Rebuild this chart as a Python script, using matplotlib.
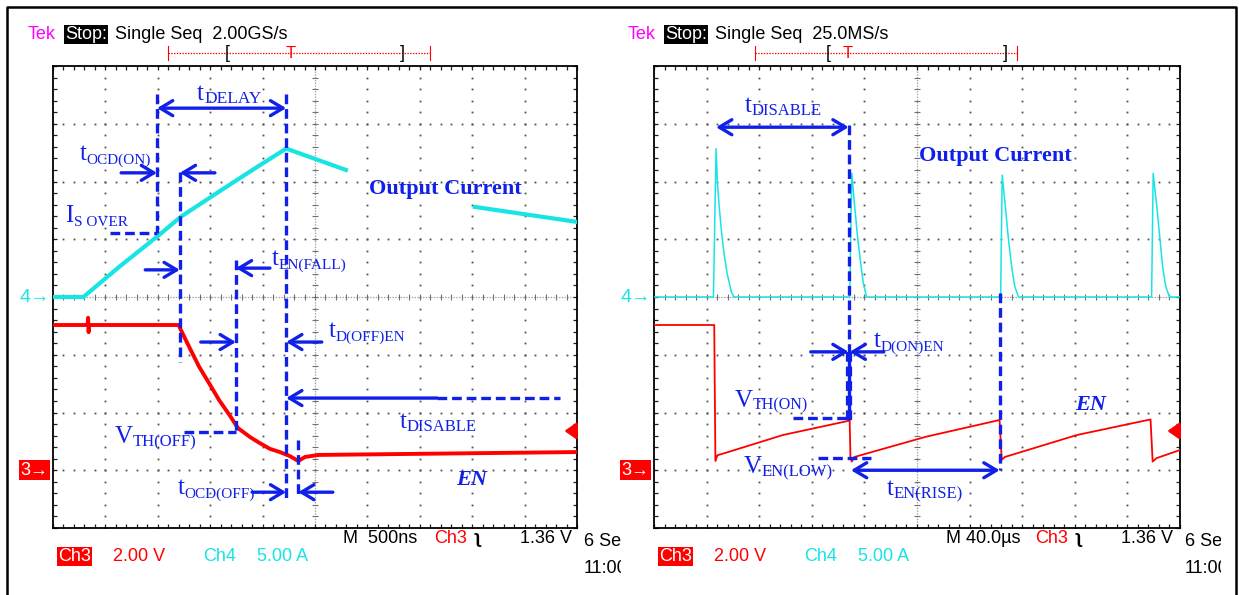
import numpy as np
import matplotlib
matplotlib.use('Agg')
import matplotlib.pyplot as plt
from matplotlib.transforms import Bbox, TransformedBbox

plt.rcParams['font.family'] = ['Liberation Sans', 'DejaVu Sans']
plt.rcParams['lines.scale_dashes'] = False

# scope settings
ch3_v_div = 2.0      # EN, V/div
ch3_gnd = -3.0       # ground marker, div
ch4_a_div = 5.0      # output current, A/div
ch4_gnd = 0.0
trig_level = 1.36    # V

# left capture, 500 ns/div
left_t_div = 500.0
left_i_t = [0, 290, 630, 1010, 1220, 1580, 1955, 2225, 2795, np.nan, 4025, 5000]
left_i_a = [0, 0, 2.6, 5.35, 6.95, 9.1, 11.3, 12.85, 11.0, np.nan, 7.8, 6.5]
left_en_t = [0, 330, 335, 340, 345, 1200, 1220, 1305, 1395, 1500, 1585, 1690, 1765,
             1880, 1955, 2070, 2165, 2260, 2340, 2405, 2530, 5000]
left_en_v = [5.03, 5.03, 5.28, 4.78, 5.03, 5.03, 4.86, 4.23, 3.58, 2.95, 2.43, 1.88, 1.46,
             1.15, 0.98, 0.74, 0.63, 0.49, 0.32, 0.46, 0.53, 0.63]

# right capture, 40 us/div
right_t_div = 40.0
right_i_t = [0, 45.2, 47.2, 48.2, 49.6, 51.2, 53.2, 55.6, 58.8, 60.8,
             148.8, 150.4, 152.4, 154.8, 157.2, 159.2, 161.6,
             263.6, 264.8, 267.2, 269.6, 272.0, 274.4, 277.2,
             378.4, 379.6, 382.4, 384.8, 386.8, 389.2, 392.0, 400]
right_i_a = [0, 0, 12.85, 10.0, 7.8, 5.8, 3.8, 2.05, 0.45, 0,
             0, 10.7, 8.1, 5.2, 2.9, 1.2, 0,
             0, 10.55, 7.8, 4.95, 2.6, 0.9, 0,
             0, 10.7, 7.8, 4.95, 2.6, 0.9, 0, 0]
right_en_t = [0, 45.8, 46.7, 48.2, 52.8, 98, 148.8, 149.4, 150.4, 152.4, 206.8,
              262.8, 264.4, 266.8, 321.6, 377.6, 379.2, 382.2, 400]
right_en_v = [5.03, 5.03, 0.32, 0.52, 0.58, 1.22, 1.72, 0.42, 0.30, 0.46, 1.16,
              1.74, 0.36, 0.46, 1.22, 1.76, 0.30, 0.42, 0.70]

BLUE = '#1020e8'
CYAN = '#18e4e4'
RED = '#ff0000'
SERIF = 'Liberation Serif'


def graticule(ax):
    fine = np.arange(0, 10.001, 0.2)
    vfine = np.arange(-4, 4.001, 0.2)
    for gx in range(1, 10):
        if gx != 5:
            ax.plot(np.full(vfine.size, gx), vfine, ls='none', marker='s', ms=1.3,
                    mew=0, color='#505050', zorder=1)
    for gy in range(-3, 4):
        if gy != 0:
            ax.plot(fine, np.full(fine.size, gy), ls='none', marker='s', ms=1.3,
                    mew=0, color='#505050', zorder=1)
    ax.axhline(0, color='#a0a0a0', lw=0.9, ls=(0, (1, 1)), zorder=1)
    ax.axvline(5, color='#a0a0a0', lw=0.9, ls=(0, (1, 1)), zorder=1)
    ax.plot(fine, np.zeros(fine.size), ls='none', marker='|', ms=5, mew=0.8, color='#707070', zorder=1)
    ax.plot(np.full(vfine.size, 5), vfine, ls='none', marker='_', ms=5, mew=0.8, color='#707070', zorder=1)
    ax.set_xlim(0, 10)
    ax.set_ylim(-4, 4)
    ax.set_xticks(range(11))
    ax.set_yticks(range(-4, 5))
    ax.set_xticks(fine, minor=True)
    ax.set_yticks(vfine, minor=True)
    ax.tick_params(which='both', direction='in', top=True, right=True, length=3, width=0.9,
                   labelbottom=False, labelleft=False, color='#202020')
    for s in ax.spines.values():
        s.set_linewidth(1.3)
    # channel ground markers
    ax.text(-0.05, ch4_gnd / ch4_a_div, '4\u2192', color=CYAN, fontsize=14, ha='right', va='center',
            clip_on=False)
    ax.text(-0.08, ch3_gnd, '3\u2192', color='white', fontsize=13, ha='right', va='center',
            clip_on=False, bbox=dict(facecolor=RED, edgecolor='none', pad=1.0))
    # trigger level marker
    yt = trig_level / ch3_v_div + ch3_gnd
    ax.annotate('', xy=(9.76, yt), xytext=(9.98, yt), zorder=4,
                arrowprops=dict(arrowstyle='-|>,head_length=0.5,head_width=0.35', color=RED,
                                lw=2.0, mutation_scale=14, shrinkA=0, shrinkB=0))


def vdash(ax, x, y0, y1, lw=2.4):
    ax.plot([x, x], [y0, y1], color=BLUE, lw=lw, dashes=(7, 3.5), zorder=5)


def hdash(ax, x0, x1, y, lw=2.4):
    ax.plot([x0, x1], [y, y], color=BLUE, lw=lw, dashes=(7, 3.5), zorder=5)


def arrow(ax, x0, x1, y, style='->'):
    ax.annotate('', xy=(x1, y), xytext=(x0, y), zorder=6,
                arrowprops=dict(arrowstyle=style + ',head_length=0.5,head_width=0.3',
                                color=BLUE, lw=2.4, mutation_scale=18, shrinkA=0, shrinkB=0))


def label(ax, x, y, main, sub, sub_size=12.5):
    t = ax.text(x, y, main, color=BLUE, fontsize=18, family=SERIF,
                ha='left', va='baseline', zorder=7)
    ax.annotate(sub, xy=(1, 0), xycoords=t, xytext=(0, -1.5), textcoords='offset points',
                color=BLUE, fontsize=sub_size, family=SERIF, ha='left', va='bottom', zorder=7)


fig = plt.figure(figsize=(12.39, 5.95), dpi=100)
bg = fig.add_axes([0, 0, 1, 1])
bg.set_xlim(0, 1239)
bg.set_ylim(595, 0)
bg.axis('off')

# outer frame
bg.plot([7, 7, 1236, 1236], [600, 7, 7, 600], color='black', lw=1.8, clip_on=False)

axL = fig.add_axes([53 / 1239, 67 / 595, 524 / 1239, 462 / 595])
axR = fig.add_axes([654 / 1239, 67 / 595, 526 / 1239, 462 / 595])
for ax in (axL, axR):
    graticule(ax)

# traces
axL.plot(np.array(left_i_t) / left_t_div, np.array(left_i_a) / ch4_a_div + ch4_gnd,
         color=CYAN, lw=3.0, zorder=3)
axL.plot(np.array(left_en_t) / left_t_div, np.array(left_en_v) / ch3_v_div + ch3_gnd,
         color=RED, lw=2.8, zorder=3)
axR.plot(np.array(right_i_t) / right_t_div, np.array(right_i_a) / ch4_a_div + ch4_gnd,
         color=CYAN, lw=1.1, zorder=3)
axR.plot(np.array(right_en_t) / right_t_div, np.array(right_en_v) / ch3_v_div + ch3_gnd,
         color=RED, lw=1.3, zorder=3)

# left annotations
vdash(axL, 1.985, 3.52, 1.11)
vdash(axL, 2.42, 2.16, -1.13)
vdash(axL, 3.49, 0.64, -2.34)
vdash(axL, 4.45, 3.52, -3.48)
vdash(axL, 4.68, -2.48, -3.48)
hdash(axL, 1.09, 1.985, 1.11)
hdash(axL, 2.50, 3.49, -2.34)
arrow(axL, 1.985, 4.45, 3.27, '<->')
arrow(axL, 1.30, 1.985, 2.15)
arrow(axL, 3.09, 2.42, 2.15)
arrow(axL, 1.76, 2.42, 0.47)
arrow(axL, 4.14, 3.49, 0.50)
arrow(axL, 2.82, 3.49, -0.78)
arrow(axL, 5.13, 4.45, -0.78)
arrow(axL, 7.33, 4.45, -1.75)
hdash(axL, 7.33, 9.68, -1.75)
arrow(axL, 3.80, 4.45, -3.38)
arrow(axL, 5.34, 4.68, -3.38)

label(axL, 2.75, 3.41, 't', 'DELAY')
label(axL, 0.51, 2.37, 't', 'OCD(ON)', 11)
label(axL, 0.24, 1.30, 'I', 'S OVER', 11)
label(axL, 4.18, 0.55, 't', 'EN(FALL)', 11)
label(axL, 5.27, -0.69, 't', 'D(OFF)EN', 11)
label(axL, 1.18, -2.53, 'V', 'TH(OFF)', 12)
label(axL, 6.61, -2.27, 't', 'DISABLE', 12)
label(axL, 2.38, -3.41, 't', 'OCD(OFF)', 11)
axL.text(6.03, 1.78, 'Output Current', color=BLUE, fontsize=16, fontweight='bold',
         family=SERIF, va='baseline')
axL.text(7.69, -3.26, 'EN', color=BLUE, fontsize=16, fontweight='bold', fontstyle='italic',
         family=SERIF, va='baseline')

# right annotations
vdash(axR, 3.70, 2.98, -2.13)
vdash(axR, 3.70, -0.95, -2.13, lw=4.5)
vdash(axR, 6.57, 0.07, -3.0)
hdash(axR, 2.64, 3.70, -2.10)
hdash(axR, 3.12, 4.13, -2.79)
arrow(axR, 1.18, 3.70, 2.94, '<->')
arrow(axR, 2.98, 3.70, -0.95)
arrow(axR, 4.37, 3.72, -0.95)
arrow(axR, 3.745, 6.57, -3.0, '<->')

label(axR, 1.73, 3.20, 't', 'DISABLE', 12)
label(axR, 4.18, -0.87, 't', 'D(ON)EN', 11)
label(axR, 1.54, -1.90, 'V', 'TH(ON)', 11.5)
label(axR, 1.71, -3.05, 'V', 'EN(LOW)', 12)
label(axR, 4.43, -3.43, 't', 'EN(RISE)', 12)
axR.text(5.04, 2.36, 'Output Current', color=BLUE, fontsize=16, fontweight='bold',
         family=SERIF, va='baseline')
axR.text(8.0, -1.96, 'EN', color=BLUE, fontsize=16, fontweight='bold', fontstyle='italic',
         family=SERIF, va='baseline')


# scope header / footer text
def header(x0, rate, bar, lb, tpos, rb):
    bg.text(x0, 39, 'Tek', color='#ff00ff', fontsize=13, va='baseline')
    bg.text(x0 + 37, 39, 'Stop:', color='white', fontsize=13, va='baseline',
            bbox=dict(facecolor='black', edgecolor='none', pad=0.8))
    bg.text(x0 + 87, 39, 'Single Seq  ' + rate, color='black', fontsize=13, va='baseline')
    bg.plot(bar, [53, 53], color=RED, lw=0.9, ls=(0, (1, 1)))
    for bx in bar:
        bg.plot([bx, bx], [46, 60], color=RED, lw=0.8)
    bg.text(lb, 53, '[', color='black', fontsize=13, ha='center', va='center')
    bg.text(rb, 53, ']', color='black', fontsize=13, ha='center', va='center')
    bg.text(tpos, 54, 'T', color=RED, fontsize=12, ha='center', va='center')


def footer(x0, tb, mpos, clip_x):
    bg.text(mpos, 543, 'M' + tb, color='black', fontsize=13, va='baseline')
    bg.text(x0 + 381, 543, 'Ch3', color=RED, fontsize=13, va='baseline')
    bg.text(x0 + 422, 543, '\u0285', color='black', fontsize=13, va='baseline', fontweight='bold')
    bg.text(x0 + 519, 543, '1.36 V', color='black', fontsize=13, va='baseline', ha='right')
    clip = TransformedBbox(Bbox([[0, 0], [clip_x, 595]]), bg.transData)
    for txt, yb in (('6 Sep', 546), ('11:00', 573)):
        t = bg.text(x0 + 531, yb, txt, color='black', fontsize=13, va='baseline')
        t.set_clip_box(clip)
        t.set_clip_on(True)
    bg.text(x0 + 5, 561, 'Ch3', color='white', fontsize=13, va='baseline',
            bbox=dict(facecolor=RED, edgecolor='none', pad=0.8))
    bg.text(x0 + 60, 561, '2.00 V', color=RED, fontsize=13, va='baseline')
    bg.text(x0 + 150, 561, 'Ch4', color=CYAN, fontsize=13, va='baseline')
    bg.text(x0 + 204, 561, '5.00 A', color=CYAN, fontsize=13, va='baseline')


header(28, '2.00GS/s', [168, 430], 227, 291, 402)
header(628, '25.0MS/s', [755, 1017], 828, 848, 1005)
footer(53, '  500ns', 343, 621)
footer(654, ' 40.0\u00b5s', 946, 1221)

fig.savefig('out.png', dpi=100)
